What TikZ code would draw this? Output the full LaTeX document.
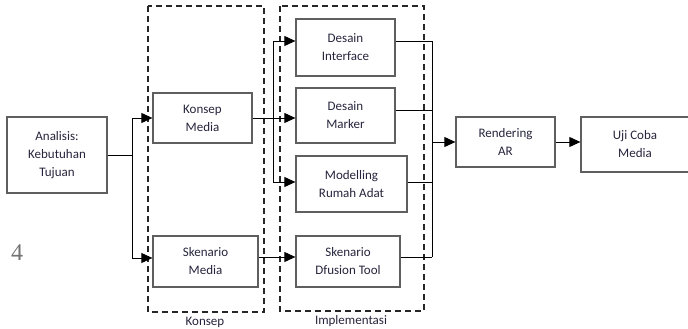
\documentclass[tikz,border=0pt]{standalone}
\usepackage{fontspec}
\setmainfont{Carlito}
\newfontfamily\angkafont{Liberation Serif}
\usetikzlibrary{arrows.meta,calc,positioning}
\definecolor{teks}{RGB}{38,36,60}
\definecolor{tepi}{RGB}{95,95,95}

\begin{document}
\begin{tikzpicture}[x=1pt,y=-1pt,
  blok/.style={rectangle, draw=tepi, line width=1.3pt, align=center, text=teks,
    font=\fontsize{13}{18}\selectfont, inner sep=0pt},
  garis/.style={line width=0.9pt, black},
  panah/.style={garis, -{Triangle[length=11pt, width=10pt]}},
  grup/.style={draw=black!85, dash pattern=on 6pt off 4pt, line width=1.4pt},
  judul/.style={text=teks, font=\fontsize{13}{14}\selectfont}]
  \useasboundingbox (0,0) rectangle (688,329);

  % kotak-kotak proses
  \node[blok, minimum width=100, minimum height=76] (anl) at (57,155) {Analisis:\\Kebutuhan\\Tujuan};
  \node[blok, minimum width=99, minimum height=50] (kmed) at (202.5,118) {Konsep\\Media};
  \node[blok, minimum width=105, minimum height=51] (smed) at (205.5,261.5) {Skenario\\Media};
  \node[blok, minimum width=99, minimum height=57] (dint) at (345.5,47.5) {Desain\\Interface};
  \node[blok, minimum width=99, minimum height=55] (dmark) at (345.5,115.5) {Desain\\Marker};
  \node[blok, minimum width=111, minimum height=56] (model) at (351.5,184) {Modelling\\Rumah Adat};
  \node[blok, minimum width=104, minimum height=51] (sdf) at (348,261.5) {Skenario\\Dfusion Tool};
  \node[blok, minimum width=99, minimum height=50] (rend) at (505.5,142) {Rendering\\AR};
  \node[blok, minimum width=108, minimum height=55] (uji) at (635,144.5) {Uji Coba\\Media};

  % kelompok Konsep dan Implementasi
  \draw[grup] (148,6) rectangle (264,312);
  \draw[grup] (280,6) rectangle (424,311);
  \node[judul] (lkonsep) at (205,322) {Konsep};
  \node[judul] (limpl) at (351,321) {Implementasi};

  % nomor halaman
  \node[text=black!55, font=\angkafont\fontsize{24}{26}\selectfont] (nomor) at (17,253) {4};

  % titik cabang
  \coordinate (c1) at (132,155);
  \coordinate (c2) at (273,118);
  \coordinate (c3) at (432,142);

  % Analisis ke Konsep / Skenario
  \draw[garis] (anl.east) -- (c1);
  \draw[garis] (c1 |- kmed.west) -- (c1 |- 0,258);
  \draw[panah] (c1 |- kmed.west) -- (kmed.west);
  \draw[panah] (c1 |- 0,258) -- (smed.west |- 0,258);

  % Konsep Media ke desain
  \draw[panah] (kmed.east) -- (kmed.east -| dmark.west);
  \draw[garis] (c2 |- 0,41) -- (c2 |- 0,182);
  \draw[panah] (c2 |- 0,41) -- (dint.west |- 0,41);
  \draw[panah] (c2 |- 0,182) -- (model.west |- 0,182);
  \draw[panah] ([yshift=4.5pt]smed.east) -- ([yshift=4.5pt]sdf.west);

  % gabung ke Rendering
  \draw[garis] ([yshift=6.5pt]dint.east) -- (c3 |- 0,41);
  \draw[garis] ([yshift=5.5pt]dmark.east) -- (c3 |- 0,110);
  \draw[garis] ([yshift=2pt]model.east) -- (c3 |- 0,182);
  \draw[garis] ([yshift=4.5pt]sdf.east) -- (c3 |- 0,257);
  \draw[garis] (c3 |- 0,41) -- (c3 |- 0,257);
  \draw[panah] (c3) -- (rend.west);
  \draw[panah] (rend.east) -- (uji.west |- rend.east);
\end{tikzpicture}
\end{document}
